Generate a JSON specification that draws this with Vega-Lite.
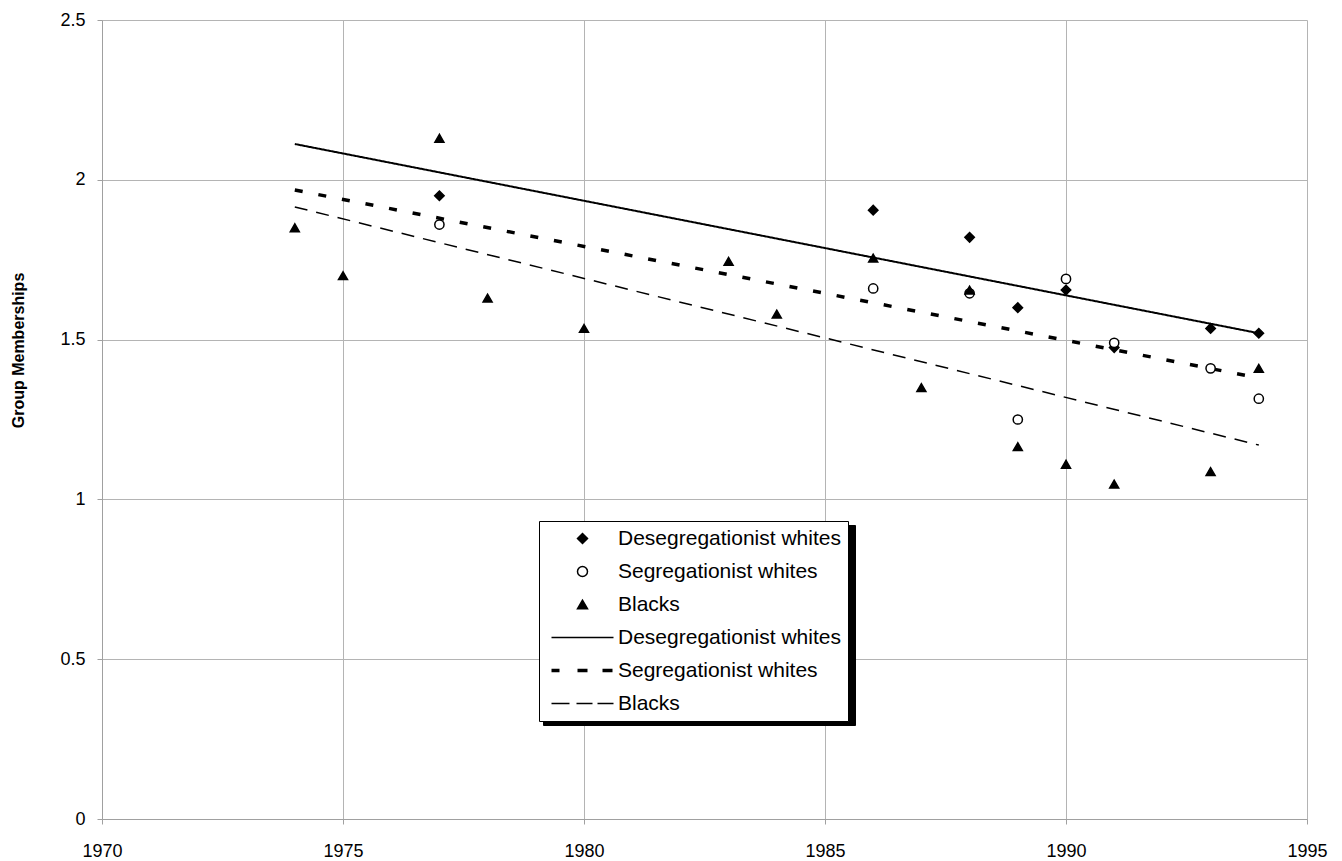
{
  "$schema": "https://vega.github.io/schema/vega-lite/v6.json",
  "width": 1205,
  "height": 799,
  "autosize": {"type": "none"},
  "padding": {"left": 102, "top": 20, "right": 35, "bottom": 42},
  "background": "white",
  "config": {
    "view": {"stroke": null},
    "font": "Liberation Sans",
    "axis": {
      "labelFont": "Liberation Sans",
      "labelColor": "black",
      "gridColor": "#b4b4b4",
      "gridWidth": 1,
      "domainColor": "#a0a0a0",
      "tickColor": "#a0a0a0",
      "tickSize": 5
    },
    "legend": {
      "orient": "none",
      "legendX": 437,
      "legendY": 501,
      "padding": 7,
      "strokeColor": "black",
      "fillColor": "white",
      "labelFont": "Liberation Sans",
      "labelFontSize": 21,
      "labelColor": "black",
      "labelLimit": 0,
      "symbolOffset": 26,
      "labelOffset": 25,
      "rowPadding": 11
    }
  },
  "datasets": {
    "pts": [
      {"group": "Desegregationist whites", "year": 1977, "value": 1.95},
      {"group": "Desegregationist whites", "year": 1986, "value": 1.905},
      {"group": "Desegregationist whites", "year": 1988, "value": 1.82},
      {"group": "Desegregationist whites", "year": 1989, "value": 1.60},
      {"group": "Desegregationist whites", "year": 1990, "value": 1.655},
      {"group": "Desegregationist whites", "year": 1991, "value": 1.475},
      {"group": "Desegregationist whites", "year": 1993, "value": 1.535},
      {"group": "Desegregationist whites", "year": 1994, "value": 1.52},
      {"group": "Segregationist whites", "year": 1977, "value": 1.86},
      {"group": "Segregationist whites", "year": 1986, "value": 1.66},
      {"group": "Segregationist whites", "year": 1988, "value": 1.645},
      {"group": "Segregationist whites", "year": 1989, "value": 1.25},
      {"group": "Segregationist whites", "year": 1990, "value": 1.69},
      {"group": "Segregationist whites", "year": 1991, "value": 1.49},
      {"group": "Segregationist whites", "year": 1993, "value": 1.41},
      {"group": "Segregationist whites", "year": 1994, "value": 1.315},
      {"group": "Blacks", "year": 1974, "value": 1.85},
      {"group": "Blacks", "year": 1975, "value": 1.70},
      {"group": "Blacks", "year": 1977, "value": 2.13},
      {"group": "Blacks", "year": 1978, "value": 1.63},
      {"group": "Blacks", "year": 1980, "value": 1.535},
      {"group": "Blacks", "year": 1983, "value": 1.745},
      {"group": "Blacks", "year": 1984, "value": 1.58},
      {"group": "Blacks", "year": 1986, "value": 1.755},
      {"group": "Blacks", "year": 1987, "value": 1.35},
      {"group": "Blacks", "year": 1988, "value": 1.655},
      {"group": "Blacks", "year": 1989, "value": 1.165},
      {"group": "Blacks", "year": 1990, "value": 1.11},
      {"group": "Blacks", "year": 1991, "value": 1.048},
      {"group": "Blacks", "year": 1993, "value": 1.087},
      {"group": "Blacks", "year": 1994, "value": 1.41}
    ],
    "trends": [
      {"group": "Desegregationist whites trend", "year": 1974, "value": 2.112},
      {"group": "Desegregationist whites trend", "year": 1994, "value": 1.52},
      {"group": "Segregationist whites trend", "year": 1974, "value": 1.968},
      {"group": "Segregationist whites trend", "year": 1994, "value": 1.38},
      {"group": "Blacks trend", "year": 1974, "value": 1.915},
      {"group": "Blacks trend", "year": 1994, "value": 1.17}
    ]
  },
  "encoding": {
    "x": {
      "field": "year",
      "type": "quantitative",
      "scale": {"domain": [1970, 1995], "nice": false, "zero": false},
      "axis": {
        "values": [1970, 1975, 1980, 1985, 1990, 1995],
        "format": "d",
        "title": null,
        "labelFontSize": 18,
        "labelPadding": 18,
        "labelFlush": false
      }
    },
    "y": {
      "field": "value",
      "type": "quantitative",
      "scale": {"domain": [0, 2.5], "nice": false},
      "axis": {
        "values": [0, 0.5, 1, 1.5, 2, 2.5],
        "format": "~g",
        "title": "Group Memberships",
        "titleFont": "Liberation Sans",
        "titleFontWeight": "bold",
        "titleFontSize": 16,
        "titleColor": "black",
        "titleX": -84,
        "titleY": 330,
        "titleBaseline": "middle",
        "titleAngle": -90,
        "labelFontSize": 18,
        "labelPadding": 12,
        "labelFlush": false
      }
    }
  },
  "layer": [
    {
      "data": {"name": "trends"},
      "mark": {"type": "line", "strokeCap": "butt"},
      "encoding": {
        "detail": {"field": "group"},
        "color": {
          "field": "group",
          "type": "nominal",
          "scale": {
            "domain": ["Desegregationist whites trend", "Segregationist whites trend", "Blacks trend", "Desegregationist whites", "Segregationist whites", "Blacks"],
            "range": ["black", "black", "black", "black", "black", "black"]
          },
          "legend": {
            "title": null,
            "legendX": 441,
            "legendY": 505,
            "fillColor": "black",
            "strokeColor": "black",
            "labelColor": "black",
            "symbolOpacity": 0,
            "labelOffset": 245,
            "labelExpr": "'.'"
          }
        },
        "strokeDash": {
          "field": "group",
          "scale": {
            "domain": ["Desegregationist whites trend", "Segregationist whites trend", "Blacks trend"],
            "range": [[1, 0], [8, 16], [13, 9]]
          },
          "legend": null
        },
        "strokeWidth": {
          "field": "group",
          "scale": {
            "type": "ordinal",
            "domain": ["Desegregationist whites trend", "Segregationist whites trend", "Blacks trend"],
            "range": [2, 3.5, 1.5]
          },
          "legend": null
        }
      }
    },
    {
      "data": {"name": "pts"},
      "mark": {"type": "point", "filled": true, "stroke": "black", "strokeWidth": 1.5, "opacity": 1},
      "encoding": {
        "shape": {
          "field": "group",
          "type": "nominal",
          "scale": {
            "domain": ["Desegregationist whites", "Segregationist whites", "Blacks", "Desegregationist whites trend", "Segregationist whites trend", "Blacks trend"],
            "range": ["diamond", "circle", "triangle-up", "M-6.2,0H6.2", "M-6.2,0H-4.6M-1,0H1M4,0H6", "M-6.2,0H-2.6M-1.2,0H2M3,0H6.2"]
          },
          "legend": {
            "title": null,
            "labelExpr": "replace(datum.label, ' trend', '')",
            "symbolFillColor": {"expr": "datum.value == 'Segregationist whites' ? 'white' : indexof(datum.value, 'trend') >= 0 ? 'transparent' : 'black'"},
            "symbolStrokeColor": "black",
            "symbolStrokeWidth": {"expr": "datum.value == 'Segregationist whites trend' ? 3.5 : 1.5"},
            "symbolOpacity": 1
          }
        },
        "fill": {
          "field": "group",
          "scale": {
            "domain": ["Desegregationist whites", "Segregationist whites", "Blacks"],
            "range": ["black", "white", "black"]
          },
          "legend": null
        },
        "size": {
          "field": "group",
          "scale": {
            "domain": ["Desegregationist whites", "Segregationist whites", "Blacks"],
            "range": [90, 81, 110]
          },
          "legend": null
        }
      }
    }
  ]
}
